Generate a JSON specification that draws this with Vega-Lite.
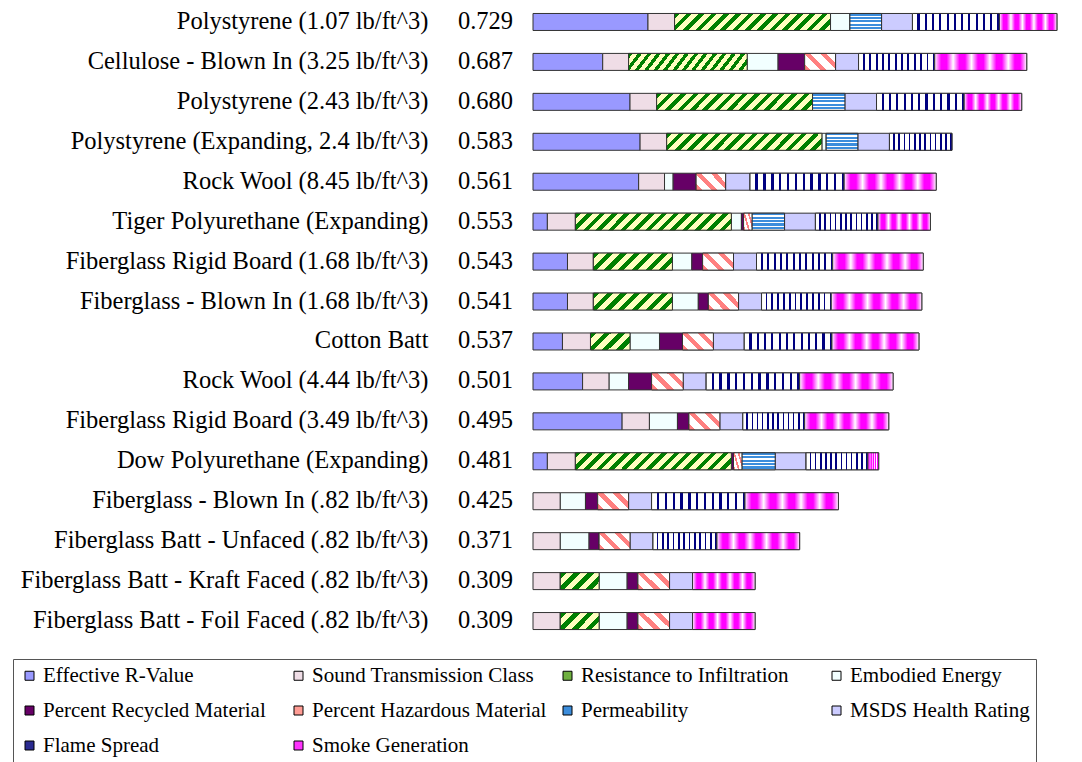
{
  "$schema": "https://vega.github.io/schema/vega-lite/v6.json",
  "width": 539,
  "height": 639,
  "autosize": "none",
  "padding": {"left": 533, "top": 2, "right": 10, "bottom": 121},
  "background": "white",
  "config": {"view": {"stroke": null}, "font": "Liberation Serif"},
  "datasets": {
    "cats": [
      {"key": "r", "c": "Effective R-Value", "k": 1},
      {"key": "s", "c": "Sound Transmission Class", "k": 2},
      {"key": "i", "c": "Resistance to Infiltration", "k": 3},
      {"key": "e", "c": "Embodied Energy", "k": 4},
      {"key": "rc", "c": "Percent Recycled Material", "k": 5},
      {"key": "h", "c": "Percent Hazardous Material", "k": 6},
      {"key": "p", "c": "Permeability", "k": 7},
      {"key": "ms", "c": "MSDS Health Rating", "k": 8},
      {"key": "f", "c": "Flame Spread", "k": 9},
      {"key": "sm", "c": "Smoke Generation", "k": 10}
    ],
    "main": [
      {"m": "Polystyrene (1.07 lb/ft^3)", "t": 0.729, "r": 0.160, "s": 0.037, "i": 0.217, "e": 0.027, "p": 0.044, "ms": 0.043, "f": 0.121, "sm": 0.080},
      {"m": "Cellulose - Blown In (3.25 lb/ft^3)", "t": 0.687, "r": 0.097, "s": 0.036, "i": 0.165, "e": 0.043, "rc": 0.037, "h": 0.043, "ms": 0.032, "f": 0.106, "sm": 0.128},
      {"m": "Polystyrene (2.43 lb/ft^3)", "t": 0.680, "r": 0.135, "s": 0.037, "i": 0.217, "p": 0.045, "ms": 0.044, "f": 0.122, "sm": 0.080},
      {"m": "Polystyrene (Expanding, 2.4 lb/ft^3)", "t": 0.583, "r": 0.149, "s": 0.037, "i": 0.216, "e": 0.006, "p": 0.044, "ms": 0.044, "f": 0.087},
      {"m": "Rock Wool (8.45 lb/ft^3)", "t": 0.561, "r": 0.147, "s": 0.036, "e": 0.012, "rc": 0.032, "h": 0.041, "ms": 0.034, "f": 0.131, "sm": 0.128},
      {"m": "Tiger Polyurethane (Expanding)", "t": 0.553, "r": 0.020, "s": 0.039, "i": 0.217, "e": 0.014, "rc": 0.003, "h": 0.012, "p": 0.045, "ms": 0.043, "f": 0.087, "sm": 0.073},
      {"m": "Fiberglass Rigid Board (1.68 lb/ft^3)", "t": 0.543, "r": 0.048, "s": 0.036, "i": 0.110, "e": 0.027, "rc": 0.015, "h": 0.043, "ms": 0.032, "f": 0.106, "sm": 0.126},
      {"m": "Fiberglass - Blown In (1.68 lb/ft^3)", "t": 0.541, "r": 0.048, "s": 0.036, "i": 0.110, "e": 0.036, "rc": 0.014, "h": 0.042, "ms": 0.032, "f": 0.097, "sm": 0.126},
      {"m": "Cotton Batt", "t": 0.537, "r": 0.041, "s": 0.039, "i": 0.055, "e": 0.041, "rc": 0.032, "h": 0.043, "ms": 0.043, "f": 0.122, "sm": 0.121},
      {"m": "Rock Wool (4.44 lb/ft^3)", "t": 0.501, "r": 0.069, "s": 0.037, "e": 0.027, "rc": 0.032, "h": 0.044, "ms": 0.032, "f": 0.130, "sm": 0.130},
      {"m": "Fiberglass Rigid Board (3.49 lb/ft^3)", "t": 0.495, "r": 0.124, "s": 0.038, "e": 0.039, "rc": 0.016, "h": 0.043, "ms": 0.032, "f": 0.086, "sm": 0.117},
      {"m": "Dow Polyurethane (Expanding)", "t": 0.481, "r": 0.020, "s": 0.039, "i": 0.217, "rc": 0.003, "h": 0.012, "p": 0.046, "ms": 0.043, "f": 0.086, "sm": 0.015},
      {"m": "Fiberglass - Blown In (.82 lb/ft^3)", "t": 0.425, "s": 0.038, "e": 0.035, "rc": 0.017, "h": 0.043, "ms": 0.032, "f": 0.130, "sm": 0.130},
      {"m": "Fiberglass Batt - Unfaced (.82 lb/ft^3)", "t": 0.371, "s": 0.038, "e": 0.040, "rc": 0.014, "h": 0.043, "ms": 0.032, "f": 0.089, "sm": 0.115},
      {"m": "Fiberglass Batt - Kraft Faced (.82 lb/ft^3)", "t": 0.309, "s": 0.038, "i": 0.054, "e": 0.039, "rc": 0.015, "h": 0.044, "ms": 0.032, "sm": 0.087},
      {"m": "Fiberglass Batt - Foil Faced (.82 lb/ft^3)", "t": 0.309, "s": 0.038, "i": 0.054, "e": 0.039, "rc": 0.015, "h": 0.044, "ms": 0.032, "sm": 0.087}
    ]
  },
  "data": {"name": "main"},
  "transform": [
    {"fold": ["r", "s", "i", "e", "rc", "h", "p", "ms", "f", "sm"], "as": ["key", "v"]},
    {"filter": "datum.v > 0"},
    {"lookup": "key", "from": {"data": {"name": "cats"}, "key": "key", "fields": ["c", "k"]}},
    {"stack": "v", "groupby": ["m"], "sort": [{"field": "k", "order": "ascending"}], "as": ["x0", "x1"]}
  ],
  "encoding": {
    "y": {
      "field": "m", "type": "nominal", "sort": null,
      "axis": {"title": null, "ticks": false, "domain": false, "labelPadding": 105, "labelFontSize": 24.5, "labelFont": "Liberation Serif", "labelColor": "black", "labelLimit": 600}
    }
  },
  "layer": [
    {
      "mark": {"type": "bar", "size": 17, "stroke": "#333333", "strokeWidth": 1},
      "encoding": {
        "x": {"field": "x0", "type": "quantitative", "scale": {"domain": [0, 0.75], "nice": false}, "axis": null},
        "x2": {"field": "x1"},
        "color": {
          "field": "c", "type": "nominal",
          "scale": {
            "domain": ["Effective R-Value", "Sound Transmission Class", "Resistance to Infiltration", "Embodied Energy", "Percent Recycled Material", "Percent Hazardous Material", "Permeability", "MSDS Health Rating", "Flame Spread", "Smoke Generation"],
            "range": ["#9999FF", "#EFDDE6", "#6FB040", "#F2FFFF", "#660066", "#FF9C94", "#3C8DDC", "#CCCCFF", "#2A2A90", "#FF33FF"]
          },
          "legend": {
            "title": null, "orient": "none", "legendX": -520, "legendY": 657,
            "direction": "horizontal", "columns": 4, "gridAlign": "all",
            "symbolType": "square", "symbolSize": 81, "symbolStrokeColor": "black", "symbolStrokeWidth": 1, "symbolOpacity": 1,
            "labelFontSize": 21, "labelFont": "Liberation Serif", "labelColor": "black", "labelLimit": 400, "labelOffset": 3,
            "columnPadding": 10, "rowPadding": 13, "padding": 6, "strokeColor": "#555555", "fillColor": "white"
          }
        }
      }
    },
    {
      "transform": [{"filter": "datum.key == 'i' && datum.v >= 0.15"}],
      "mark": {"type": "bar", "size": 17, "stroke": "#333333", "strokeWidth": 1,
        "fill": {"gradient": "linear", "x1": 0, "y1": 0, "x2": 1.096, "y2": 0.119, "stops": [
          {"offset": 0, "color": "#008000"}, {"offset": 0.032, "color": "#008000"}, {"offset": 0.032, "color": "#FFFFC0"}, {"offset": 0.0714, "color": "#FFFFC0"},
          {"offset": 0.0714, "color": "#008000"}, {"offset": 0.103, "color": "#008000"}, {"offset": 0.103, "color": "#FFFFC0"}, {"offset": 0.1429, "color": "#FFFFC0"},
          {"offset": 0.1429, "color": "#008000"}, {"offset": 0.175, "color": "#008000"}, {"offset": 0.175, "color": "#FFFFC0"}, {"offset": 0.2143, "color": "#FFFFC0"},
          {"offset": 0.2143, "color": "#008000"}, {"offset": 0.246, "color": "#008000"}, {"offset": 0.246, "color": "#FFFFC0"}, {"offset": 0.2857, "color": "#FFFFC0"},
          {"offset": 0.2857, "color": "#008000"}, {"offset": 0.318, "color": "#008000"}, {"offset": 0.318, "color": "#FFFFC0"}, {"offset": 0.3571, "color": "#FFFFC0"},
          {"offset": 0.3571, "color": "#008000"}, {"offset": 0.389, "color": "#008000"}, {"offset": 0.389, "color": "#FFFFC0"}, {"offset": 0.4286, "color": "#FFFFC0"},
          {"offset": 0.4286, "color": "#008000"}, {"offset": 0.461, "color": "#008000"}, {"offset": 0.461, "color": "#FFFFC0"}, {"offset": 0.5, "color": "#FFFFC0"},
          {"offset": 0.5, "color": "#008000"}, {"offset": 0.532, "color": "#008000"}, {"offset": 0.532, "color": "#FFFFC0"}, {"offset": 0.5714, "color": "#FFFFC0"},
          {"offset": 0.5714, "color": "#008000"}, {"offset": 0.603, "color": "#008000"}, {"offset": 0.603, "color": "#FFFFC0"}, {"offset": 0.6429, "color": "#FFFFC0"},
          {"offset": 0.6429, "color": "#008000"}, {"offset": 0.675, "color": "#008000"}, {"offset": 0.675, "color": "#FFFFC0"}, {"offset": 0.7143, "color": "#FFFFC0"},
          {"offset": 0.7143, "color": "#008000"}, {"offset": 0.746, "color": "#008000"}, {"offset": 0.746, "color": "#FFFFC0"}, {"offset": 0.7857, "color": "#FFFFC0"},
          {"offset": 0.7857, "color": "#008000"}, {"offset": 0.818, "color": "#008000"}, {"offset": 0.818, "color": "#FFFFC0"}, {"offset": 0.8571, "color": "#FFFFC0"},
          {"offset": 0.8571, "color": "#008000"}, {"offset": 0.889, "color": "#008000"}, {"offset": 0.889, "color": "#FFFFC0"}, {"offset": 0.9286, "color": "#FFFFC0"},
          {"offset": 0.9286, "color": "#008000"}, {"offset": 0.961, "color": "#008000"}, {"offset": 0.961, "color": "#FFFFC0"}, {"offset": 1, "color": "#FFFFC0"}
        ]}},
      "encoding": {"x": {"field": "x0", "type": "quantitative"}, "x2": {"field": "x1"}}
    },
    {
      "transform": [{"filter": "datum.key == 'i' && datum.v >= 0.08 && datum.v < 0.15"}],
      "mark": {"type": "bar", "size": 17, "stroke": "#333333", "strokeWidth": 1,
        "fill": {"gradient": "linear", "x1": 0, "y1": 0, "x2": 1.162, "y2": 0.25, "stops": [
          {"offset": 0, "color": "#008000"}, {"offset": 0.064, "color": "#008000"}, {"offset": 0.064, "color": "#FFFFC0"}, {"offset": 0.1429, "color": "#FFFFC0"},
          {"offset": 0.1429, "color": "#008000"}, {"offset": 0.207, "color": "#008000"}, {"offset": 0.207, "color": "#FFFFC0"}, {"offset": 0.2857, "color": "#FFFFC0"},
          {"offset": 0.2857, "color": "#008000"}, {"offset": 0.35, "color": "#008000"}, {"offset": 0.35, "color": "#FFFFC0"}, {"offset": 0.4286, "color": "#FFFFC0"},
          {"offset": 0.4286, "color": "#008000"}, {"offset": 0.493, "color": "#008000"}, {"offset": 0.493, "color": "#FFFFC0"}, {"offset": 0.5714, "color": "#FFFFC0"},
          {"offset": 0.5714, "color": "#008000"}, {"offset": 0.636, "color": "#008000"}, {"offset": 0.636, "color": "#FFFFC0"}, {"offset": 0.7143, "color": "#FFFFC0"},
          {"offset": 0.7143, "color": "#008000"}, {"offset": 0.779, "color": "#008000"}, {"offset": 0.779, "color": "#FFFFC0"}, {"offset": 0.8571, "color": "#FFFFC0"},
          {"offset": 0.8571, "color": "#008000"}, {"offset": 0.921, "color": "#008000"}, {"offset": 0.921, "color": "#FFFFC0"}, {"offset": 1, "color": "#FFFFC0"}
        ]}},
      "encoding": {"x": {"field": "x0", "type": "quantitative"}, "x2": {"field": "x1"}}
    },
    {
      "transform": [{"filter": "datum.key == 'i' && datum.v < 0.08"}],
      "mark": {"type": "bar", "size": 17, "stroke": "#333333", "strokeWidth": 1,
        "fill": {"gradient": "linear", "x1": 0, "y1": 0, "x2": 1.207, "y2": 0.526, "stops": [
          {"offset": 0, "color": "#008000"}, {"offset": 0.112, "color": "#008000"}, {"offset": 0.112, "color": "#FFFFC0"}, {"offset": 0.25, "color": "#FFFFC0"},
          {"offset": 0.25, "color": "#008000"}, {"offset": 0.362, "color": "#008000"}, {"offset": 0.362, "color": "#FFFFC0"}, {"offset": 0.5, "color": "#FFFFC0"},
          {"offset": 0.5, "color": "#008000"}, {"offset": 0.612, "color": "#008000"}, {"offset": 0.612, "color": "#FFFFC0"}, {"offset": 0.75, "color": "#FFFFC0"},
          {"offset": 0.75, "color": "#008000"}, {"offset": 0.862, "color": "#008000"}, {"offset": 0.862, "color": "#FFFFC0"}, {"offset": 1, "color": "#FFFFC0"}
        ]}},
      "encoding": {"x": {"field": "x0", "type": "quantitative"}, "x2": {"field": "x1"}}
    },
    {
      "transform": [{"filter": "datum.key == 'h'"}],
      "mark": {"type": "bar", "size": 17, "stroke": "#333333", "strokeWidth": 1,
        "fill": {"gradient": "linear", "x1": 0, "y1": 1, "x2": 1.19, "y2": 0.345, "stops": [
          {"offset": 0, "color": "#FF8080"}, {"offset": 0.133, "color": "#FF8080"}, {"offset": 0.133, "color": "#FFFFFF"}, {"offset": 0.333, "color": "#FFFFFF"},
          {"offset": 0.333, "color": "#FF8080"}, {"offset": 0.467, "color": "#FF8080"}, {"offset": 0.467, "color": "#FFFFFF"}, {"offset": 0.667, "color": "#FFFFFF"},
          {"offset": 0.667, "color": "#FF8080"}, {"offset": 0.8, "color": "#FF8080"}, {"offset": 0.8, "color": "#FFFFFF"}, {"offset": 1, "color": "#FFFFFF"}
        ]}},
      "encoding": {"x": {"field": "x0", "type": "quantitative"}, "x2": {"field": "x1"}}
    },
    {
      "transform": [{"filter": "datum.key == 'p'"}],
      "mark": {"type": "bar", "size": 17, "stroke": "#333333", "strokeWidth": 1,
        "fill": {"gradient": "linear", "x1": 0, "y1": 0, "x2": 0, "y2": 1, "stops": [
          {"offset": 0, "color": "#3C8DDC"}, {"offset": 0.13, "color": "#3C8DDC"}, {"offset": 0.13, "color": "#FFFFFF"}, {"offset": 0.2, "color": "#FFFFFF"},
          {"offset": 0.2, "color": "#3C8DDC"}, {"offset": 0.33, "color": "#3C8DDC"}, {"offset": 0.33, "color": "#FFFFFF"}, {"offset": 0.4, "color": "#FFFFFF"},
          {"offset": 0.4, "color": "#3C8DDC"}, {"offset": 0.53, "color": "#3C8DDC"}, {"offset": 0.53, "color": "#FFFFFF"}, {"offset": 0.6, "color": "#FFFFFF"},
          {"offset": 0.6, "color": "#3C8DDC"}, {"offset": 0.73, "color": "#3C8DDC"}, {"offset": 0.73, "color": "#FFFFFF"}, {"offset": 0.8, "color": "#FFFFFF"},
          {"offset": 0.8, "color": "#3C8DDC"}, {"offset": 0.93, "color": "#3C8DDC"}, {"offset": 0.93, "color": "#FFFFFF"}, {"offset": 1, "color": "#FFFFFF"}
        ]}},
      "encoding": {"x": {"field": "x0", "type": "quantitative"}, "x2": {"field": "x1"}}
    },
    {
      "transform": [{"filter": "datum.key == 'f'"}],
      "mark": {"type": "bar", "size": 17, "stroke": "#333333", "strokeWidth": 1,
        "fill": {"gradient": "linear", "x1": 0, "y1": 0, "x2": 1, "y2": 0, "stops": [
          {"offset": 0, "color": "#FFFFFF"}, {"offset": 0.058, "color": "#FFFFFF"}, {"offset": 0.058, "color": "#000080"}, {"offset": 0.083, "color": "#000080"},
          {"offset": 0.083, "color": "#FFFFFF"}, {"offset": 0.142, "color": "#FFFFFF"}, {"offset": 0.142, "color": "#000080"}, {"offset": 0.167, "color": "#000080"},
          {"offset": 0.167, "color": "#FFFFFF"}, {"offset": 0.225, "color": "#FFFFFF"}, {"offset": 0.225, "color": "#000080"}, {"offset": 0.25, "color": "#000080"},
          {"offset": 0.25, "color": "#FFFFFF"}, {"offset": 0.308, "color": "#FFFFFF"}, {"offset": 0.308, "color": "#000080"}, {"offset": 0.333, "color": "#000080"},
          {"offset": 0.333, "color": "#FFFFFF"}, {"offset": 0.392, "color": "#FFFFFF"}, {"offset": 0.392, "color": "#000080"}, {"offset": 0.417, "color": "#000080"},
          {"offset": 0.417, "color": "#FFFFFF"}, {"offset": 0.475, "color": "#FFFFFF"}, {"offset": 0.475, "color": "#000080"}, {"offset": 0.5, "color": "#000080"},
          {"offset": 0.5, "color": "#FFFFFF"}, {"offset": 0.558, "color": "#FFFFFF"}, {"offset": 0.558, "color": "#000080"}, {"offset": 0.583, "color": "#000080"},
          {"offset": 0.583, "color": "#FFFFFF"}, {"offset": 0.642, "color": "#FFFFFF"}, {"offset": 0.642, "color": "#000080"}, {"offset": 0.667, "color": "#000080"},
          {"offset": 0.667, "color": "#FFFFFF"}, {"offset": 0.725, "color": "#FFFFFF"}, {"offset": 0.725, "color": "#000080"}, {"offset": 0.75, "color": "#000080"},
          {"offset": 0.75, "color": "#FFFFFF"}, {"offset": 0.808, "color": "#FFFFFF"}, {"offset": 0.808, "color": "#000080"}, {"offset": 0.833, "color": "#000080"},
          {"offset": 0.833, "color": "#FFFFFF"}, {"offset": 0.892, "color": "#FFFFFF"}, {"offset": 0.892, "color": "#000080"}, {"offset": 0.917, "color": "#000080"},
          {"offset": 0.917, "color": "#FFFFFF"}, {"offset": 0.975, "color": "#FFFFFF"}, {"offset": 0.975, "color": "#000080"}, {"offset": 1, "color": "#000080"}
        ]}},
      "encoding": {"x": {"field": "x0", "type": "quantitative"}, "x2": {"field": "x1"}}
    },
    {
      "transform": [{"filter": "datum.key == 'sm'"}],
      "mark": {"type": "bar", "size": 17, "stroke": "#333333", "strokeWidth": 1,
        "fill": {"gradient": "linear", "x1": 0, "y1": 0, "x2": 1, "y2": 0, "stops": [
          {"offset": 0, "color": "#FFFFFF"}, {"offset": 0.07, "color": "#FF00FF"}, {"offset": 0.13, "color": "#FF00FF"}, {"offset": 0.2, "color": "#FFFFFF"},
          {"offset": 0.27, "color": "#FF00FF"}, {"offset": 0.33, "color": "#FF00FF"}, {"offset": 0.4, "color": "#FFFFFF"},
          {"offset": 0.47, "color": "#FF00FF"}, {"offset": 0.53, "color": "#FF00FF"}, {"offset": 0.6, "color": "#FFFFFF"},
          {"offset": 0.67, "color": "#FF00FF"}, {"offset": 0.73, "color": "#FF00FF"}, {"offset": 0.8, "color": "#FFFFFF"},
          {"offset": 0.87, "color": "#FF00FF"}, {"offset": 0.93, "color": "#FF00FF"}, {"offset": 1, "color": "#FFFFFF"}
        ]}},
      "encoding": {"x": {"field": "x0", "type": "quantitative"}, "x2": {"field": "x1"}}
    },
    {
      "transform": [{"aggregate": [{"op": "max", "field": "t", "as": "tt"}], "groupby": ["m"]}],
      "mark": {"type": "text", "align": "right", "baseline": "middle", "dx": -20, "fontSize": 24.5, "font": "Liberation Serif", "color": "black"},
      "encoding": {
        "x": {"datum": 0},
        "text": {"field": "tt", "type": "quantitative", "format": ".3f"}
      }
    }
  ]
}
